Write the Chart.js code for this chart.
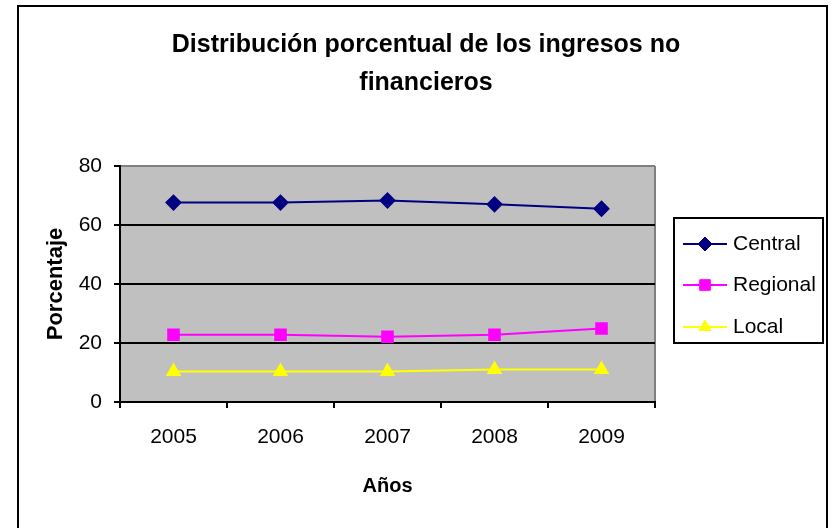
<!DOCTYPE html>
<html>
<head>
<meta charset="utf-8">
<script src="https://cdn.jsdelivr.net/npm/chart.js@4.4.1/dist/chart.umd.min.js"></script>
<style>
  html, body { margin: 0; padding: 0; background: #fff; }
  #wrap { width: 833px; height: 528px; }
</style>
</head>
<body>
<div id="wrap"><canvas id="chart" width="833" height="528"></canvas></div>
<script>
// datos
const years = ['2005', '2006', '2007', '2008', '2009'];
const central = [67.6, 67.6, 68.3, 67.0, 65.5];
const regional = [22.8, 22.8, 22.1, 22.8, 24.9];
const local = [10.3, 10.3, 10.3, 11.0, 11.0];
const yTicks = [0, 20, 40, 60, 80];

const titleLines = ['Distribución porcentual de los ingresos no', 'financieros'];
const FONT = '"Liberation Sans", Arial, sans-serif';

// fondo gris, bordes y título
const frame = {
  id: 'frame',
  beforeDraw(chart) {
    const { ctx, chartArea: a } = chart;
    ctx.save();
    ctx.fillStyle = '#c0c0c0';
    ctx.fillRect(a.left, a.top, a.right - a.left, a.bottom - a.top);
    ctx.strokeStyle = '#808080';
    ctx.lineWidth = 2;
    ctx.beginPath();
    ctx.moveTo(a.right, a.top);
    ctx.lineTo(a.right, a.bottom);
    ctx.stroke();
    // borde exterior
    ctx.strokeStyle = '#000';
    ctx.lineWidth = 2;
    ctx.beginPath();
    ctx.moveTo(18, 540);
    ctx.lineTo(18, 6);
    ctx.lineTo(827, 6);
    ctx.lineTo(827, 540);
    ctx.stroke();
    // título
    ctx.fillStyle = '#000';
    ctx.font = 'bold 25px ' + FONT;
    ctx.textAlign = 'center';
    ctx.textBaseline = 'middle';
    ctx.fillText(titleLines[0], 426, 45);
    ctx.fillText(titleLines[1], 426, 83);
    ctx.restore();
  }
};

// leyenda estilo Excel (línea + marcador)
const boxLegend = {
  id: 'boxLegend',
  afterDraw(chart) {
    const ctx = chart.ctx;
    ctx.save();
    ctx.strokeStyle = '#000';
    ctx.lineWidth = 2;
    ctx.strokeRect(674, 218, 149, 125);
    const rows = [244, 285, 327];
    chart.data.datasets.forEach((ds, i) => {
      const y = rows[i];
      ctx.strokeStyle = ds.borderColor;
      ctx.lineWidth = 2;
      ctx.beginPath();
      ctx.moveTo(683, y);
      ctx.lineTo(727, y);
      ctx.stroke();
      ctx.fillStyle = ds.pointBackgroundColor;
      ctx.strokeStyle = ds.pointBorderColor;
      ctx.lineWidth = 1;
      Chart.helpers.drawPoint(ctx, {
        pointStyle: ds.pointStyle,
        radius: ds.pointRadius,
        rotation: 0,
        borderWidth: 1
      }, 705, y);
      ctx.fillStyle = '#000';
      ctx.font = '21px ' + FONT;
      ctx.textAlign = 'left';
      ctx.textBaseline = 'middle';
      ctx.fillText(ds.label, 733, y);
    });
    ctx.restore();
  }
};

const ctx = document.getElementById('chart').getContext('2d');
new Chart(ctx, {
  type: 'line',
  data: {
    labels: years,
    datasets: [
      {
        label: 'Central', data: central,
        borderColor: '#000080', pointBackgroundColor: '#000080', pointBorderColor: '#000080',
        pointStyle: 'rectRot', pointRadius: 7, borderWidth: 2, tension: 0
      },
      {
        label: 'Regional', data: regional,
        borderColor: '#ff00ff', pointBackgroundColor: '#ff00ff', pointBorderColor: '#ff00ff',
        pointStyle: 'rect', pointRadius: 7.5, borderWidth: 2, tension: 0
      },
      {
        label: 'Local', data: local,
        borderColor: '#ffff00', pointBackgroundColor: '#ffff00', pointBorderColor: '#ffff00',
        pointStyle: 'triangle', pointRadius: 7, borderWidth: 2, tension: 0
      }
    ]
  },
  options: {
    responsive: false,
    animation: false,
    layout: { padding: { top: 166, left: 19, right: 178, bottom: 8 } },
    plugins: {
      legend: { display: false },
      tooltip: { enabled: false },
      title: { display: false }
    },
    scales: {
      x: {
        offset: true,
        afterFit(s) { s.height = 118; },
        grid: { offset: true, drawOnChartArea: false, tickLength: 6, tickColor: '#000', lineWidth: 2 },
        border: { color: '#000', width: 2 },
        ticks: { color: '#000', font: { family: FONT, size: 21 }, padding: 17, maxRotation: 0 },
        title: { display: true, text: 'Años', color: '#000', font: { family: FONT, size: 20, weight: 'bold' }, padding: { top: 0, bottom: 22 } }
      },
      y: {
        min: 0, max: 80,
        afterFit(s) { s.width = 101; },
        afterBuildTicks(s) { s.ticks = yTicks.map(v => ({ value: v })); },
        grid: {
          color: c => (c.tick && c.tick.value === 80 ? '#808080' : '#000'),
          tickColor: '#000', lineWidth: 2, tickLength: 6
        },
        border: { color: '#000', width: 2 },
        ticks: { color: '#000', font: { family: FONT, size: 21 }, padding: 12 },
        title: { display: true, text: 'Porcentaje', color: '#000', font: { family: FONT, size: 22, weight: 'bold' }, padding: { top: 24, bottom: 0 } }
      }
    }
  },
  plugins: [frame, boxLegend]
});
</script>
</body>
</html>
